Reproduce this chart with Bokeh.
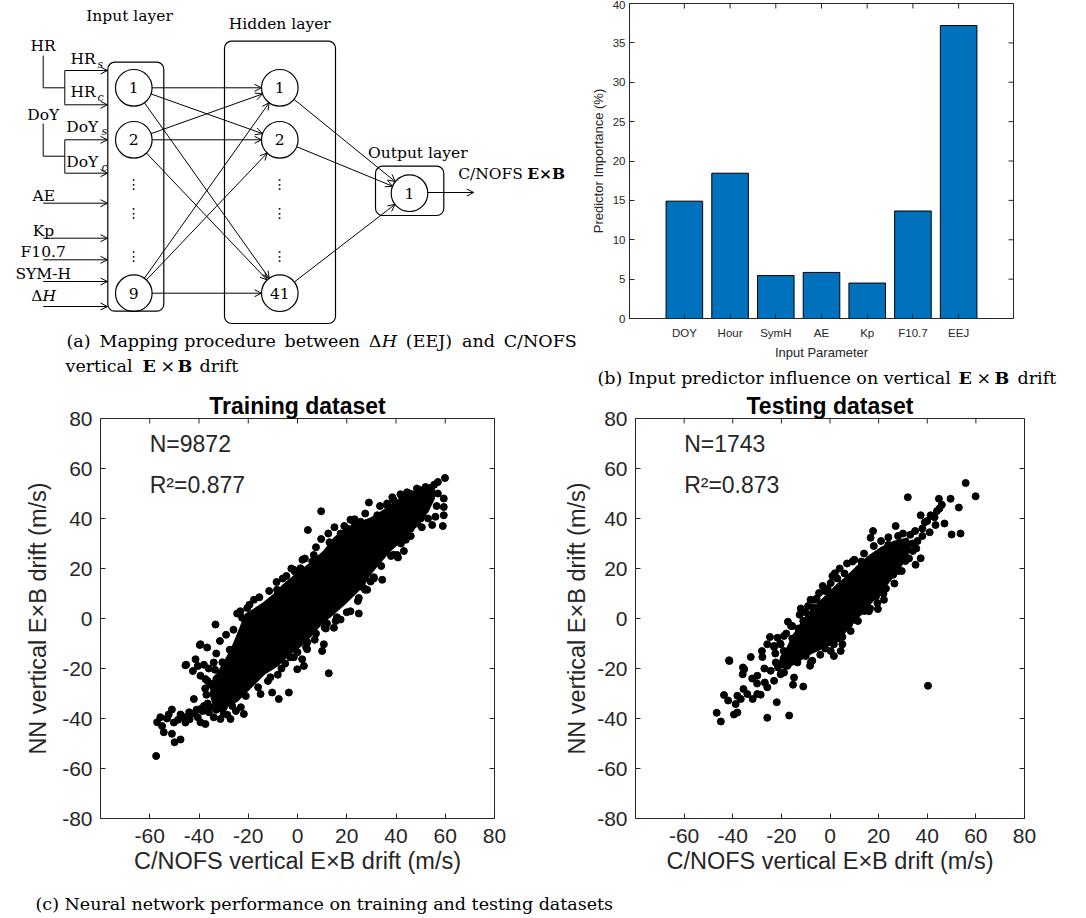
import math
from bokeh.plotting import figure
from bokeh.layouts import column, row
from bokeh.models import (Range1d, FixedTicker, BoxAnnotation, Arrow, OpenHead,
                          ColumnDataSource)
from bokeh.core.properties import value
from bokeh.embed import file_html
from bokeh.resources import INLINE

# ---------------------------------------------------------------- data
# (b) predictor importance
predictors = ["DOY", "Hour", "SymH", "AE", "Kp", "F10.7", "EEJ"]
importance = [14.9, 18.45, 5.45, 5.85, 4.5, 13.65, 37.2]
importance_ticks = [0, 5, 10, 15, 20, 25, 30, 35, 40]

# (c) drift axes
drift_xticks = [-60, -40, -20, 0, 20, 40, 60, 80]
drift_xlabels = ["-60", "-40", "-20", "0", "20", "40", "60", "80"]
drift_yticks = [-80, -60, -40, -20, 0, 20, 40, 60, 80]
drift_ylabels = ["-80", "-60", "-40", "-20", "0", "20", "40", "60", "80"]

# training set: outline of the saturated point cloud (C/NOFS, NN)
train_core_nofs = [54, 47.3, 41.8, 35.1, 29.7, 24.2, 18.8, 14.8, 10.7, 5.3, 0, -5.6, -9.6,
                   -13.7, -17.7, -21.1, -23.2, -25.9, -28.6, -32.6, -34, -35.3, -34, -28.6,
                   -24.5, -19.1, -13.7, -8.3, -4.2, 1.2, 5.3, 9.3, 13.4, 18.8, 22.9, 26.9,
                   29.7, 33.7, 37.8, 43.2, 48.6, 52.7, 55.4, 55.4]
train_core_nn = [53.2, 50.6, 47.9, 43.3, 40, 38, 35.4, 32, 26.8, 22.1, 18.1, 13.5, 9.5,
                 6.2, 3.6, 1.6, -3.7, -10.3, -15.6, -22.3, -23.6, -30.2, -34.9, -34.9,
                 -32.9, -27.6, -22.3, -18.9, -15, -11, -7, -2.4, 0.9, 5.6, 9.5, 13.5,
                 18.1, 22.8, 27.4, 32, 37.4, 42.6, 48, 52]
# training set: individual samples around the cloud
train_nofs = [59.9, 57, 59.4, 59.4, 59.4, 59, 54.7, 56, 48.6, 43.2, 40.8, 29, 9.6, 4.2, 9.6,
              23.2, 41.8, 36.4, -1.1, -8.5, -33.3, -39.7, -45.2, 24.9, 17.5, 21.5, 14.8,
              24.9, 26.9, 29.7, 28.3, 34.4, 40.5, -20.4, -23.2, -22.5, -17.7, -8.3, -1.5,
              1.2, 6, 6.6, 17.5, 20.2, 22.9, 25.6, 32.4, 36.4, 39.1, 42.5, 45.9, 50, 52, 54,
              -57.4, -57, -55.7, -54.3, -51, -49.9, -47.5, -52.3, -51, -50.2, -47.5, -45.5,
              -43.8, -42.1, -39.4, -39.4, -37.4, -36, -34, -31.3, -29.9, -27.2, -21.8,
              -45.5, -41.4, -39.4, -36.7, -39.4, -37.4, -34, 12.7, 10, 10.7, -3.5, -7.6,
              -10.3, -15, 1.9, 2.6, -0.1, 3.9, -53, -48.5, -44, -42, -40.5, -38.5, -36.5,
              -33, -32, -30, -38, -41, -46, -55, -42.5, -40.5, -38, -36, -35.5, -37.5,
              -33.5, -31, -25, -23, -28.5, -12, -8, -5, -3, 0, 4, 7.5, 11, 44, 50, 52, 46,
              38, 31, 16, 12,
              -26, -27.5, -30.5, -33.5, -36.5, -37, -35.5, -31, -26.5, -21, -16, -11, -6.5,
              -1.5, 3.5, 7, 11.5, 15.5, 20, 24.5, 27.5, 31, 34, 39, 42, 46, 50.5, 53, 56.5,
              57, 55.5, 48.5, 44.5, 38.5, 33.5, 27.5, 21.5, 15, 12.5, 7.5, 3, -2.5, -4.5,
              -11.5, -15.5, -19.5, -24.5, -6, 2, 13, 19, -29, -31.5, -33, -34.5]
train_nn = [56.2, 54.6, 48, 44.6, 41.3, 37, 37.4, 40.7, 38, 27, 24.4, 46.4, 42.9, 35.4, 31.8,
            39.7, 49.7, 46, 18.8, 14.6, -2.4, -10.6, -18.5, 2, -0.4, 2.9, -3.7,
            8.2, 12.2, 14.8, 11.5, 15.5, 25.4, 4.2, 2.9, 0.3, 7.5, 11.5, 19.5,
            20.1, 22.8, 25.4, 34, 36, 38.7, 38.7, 41.3, 45.3, 47.3, 48.6, 49.9, 51.3, 52.6, 52.2,
            -55, -41.5, -39.5, -45.5, -46.1, -49.5, -48.4, -38.4, -36.4, -41.6, -38.4, -41.6,
            -40.3, -32.2, -36.2, -41.5, -42.2, -37.5, -39.5, -40.2, -35.5, -40.2, -38.2,
            -18.7, -16.3, -10.3, -11.6, -22.9, -24.2, -17.6, -21.9, -13, -10.3, -29.6, -32.2,
            -29.6, -30.2, -16.3, -19, -20.3, -12.3, -40, -40.5, -37.5, -38, -39.5, -37, -34,
            -36.5, -33, -38, -35, -36.5, -39.5, -43, -21, -19, -18.5, -20, -26, -28,
            -29, -32, -37, -35.5, -38.5, -25, -22.5, -18, -15.5, -13.5, -9.5, -6, -3.5, 31.5,
            40, 44, 36, 25, 16.5, 0.5, -2,
            -4.5, -12.5, -17.5, -20.5, -25, -30.5, -35.5, -36, -35, -31, -27.5, -23.5, -20,
            -15.5, -11.5, -8.5, -4, -1, 2.5, 7, 11.5, 16, 21, 25.5, 30, 33, 36.5, 40, 45,
            50, 53.5, 52, 50.5, 48.5, 45, 42, 39.5, 36.5, 34, 28.5, 24, 20, 17,
            11, 8.5, 5.5, 2, 16, 23.5, 30.5, 37, -6.5, -9, -14, -27]
train_count = 9872
train_r2 = 0.877

# testing set: outline of the saturated point cloud (C/NOFS, NN)
test_core_nofs = [31.8, 26.3, 20.8, 16.7, 12.6, 7.1, 3, -1.1, -5.2, -9.3, -12.1, -14.8,
                  -17.5, -20, -21, -18, -13, -7, 0.3, 4.4, 8.5, 12.6, 16.7, 20.8, 24.9, 29,
                  31.8, 33.2]
test_core_nn = [32, 30.7, 28.1, 25.4, 22.1, 16.8, 13.5, 9.5, 5.6, 1.6, -2.4, -6.4,
                -11.7, -15, -19, -20, -17, -13.5, -10.3, -7.7, -2.4, 1.6, 6.2, 10.9, 15.5,
                20.8, 25.4, 29.4]
# testing set: individual samples around the cloud
test_nofs = [55.8, 59.9, 32, 44.8, 49.6, 53, 50, 53.7, 47.1, 43.4, 37.3, 41.4, 27, 17.7, 16.7,
             35.2, 37.3, 2, 0.3, -4.5, -5.9, 9.2, 12.9, -17.3, -41.5, -35.8, -32.6, -24.7,
             -21.6, -23, 19.5, 22.2, 19.7, 16, 5.1, 5.1, 1.6, 0.3, -7.9,
             40.3, -46.6, -44.9, -43.6, -41.9, -41.4, -38.8, -39.5, -38.1, -38.1, -36.7,
             -35.6, -35.9, -35.3, -34, -31.8, -29.9, -28.5, -27.8, -25.8, -21.9, -16.8,
             -15.2, -11, -25.8, -23, -20.3, -29.9, -26.8, -25.8, -23, -22.3, -21.4, -18.9,
             -17.5, -14.8, -13.4, -8.2, -7.3, 4.4, 1.6, -17.5, -14.8, -24.4, -20.3,
             28, 24, 21, 18, 14, 10, 6, 3, -2, -7, -10, -11, -13, -15.5, -19, 34, 33, 30, 35,
             38, 40, 42, 44, 46, 38, 41, 36, 34, 31, 28, 26, 23, 19, 14, 10, 7, 3, -2, -4,
             -10, -27, -30, -32, -28, -19, -16, -12, -8, -3, 1, 4, 7, 24, 30, 27.5, 45, 39, 43,
             -22.5, -20.5, -18, -15.5, -12.5, -9, -5.5, -1, 8.5, 11.5, 16.5, 22, 26.5, 29.5,
             32.5, 35.5, 30.5, 25.5, 21.5, 17, 12, 8]
test_nn = [54.2, 48.9, 48.5, 47.9, 47.9, 44.4, 33.6, 34, 38, 37.4, 41.3, 41.3, 37, 35, 32.3,
           21.5, 24.1, 18.1, 14.2, 10.2, 7.5, 22.8, 22.8, -1.3, -16.7, -19.6, -15.4, -7.4,
           -7.7, -11, 6.2, 7.5, 3.8, 2.9, -7.4, -10.3, -15, -13, -17.6,
           -26.9, -37.7, -41.2, -30.6, -32.8, -17, -34.2, -38.4, -37.6, -30.9, -32.2,
           -28.2, -22.3, -20.3, -30.2, -32.2, -30.2, -30.5, -15.4, -39.7, -33.5, -38.8,
           -26.5, -27.2, -10.3, -11.4, -10.3, -22.9, -25.6, -27.5, -24.9, -17.6, -19.6, -21.6,
           -18.9, -23.6, -17.6, -18.9, -16.9, -13, -10.3, -14.3, -11.7, -20.9, -22.3,
           33, 32.5, 31, 29, 26, 23.5, 18, 16, 11, 4.5, 2.5, -1, -4, -8, -13, 30, 33.5, 34, 35,
           36, 39, 41, 43, 45.5, 33, 34.5, 31, 27, 23, 19, 17.5, 12, 9, 3, -0.5, -3.5, -8, -12,
           -14.5, -15, -20, -26, -24, -13, -7, -3, 4, 7.5, 13, 17, 20, 22, 29.5, 30, 25, 44,
           38.5, 40.5,
           -14, -10, -6, -3, 1.5, 5, 8, 12, -5, -1, 4, 10, 14, 19, 24, 28, 27, 21.5, 15.5, 8.5,
           3, -2]
test_count = 1743
test_r2 = 0.873

# ---------------------------------------------------------------- styling
SANS = "Liberation Sans"
SERIF = "DejaVu Serif"
AXIS = "#262626"
LBL = "15.5px"      # diagram labels
CAP = "17.5px"      # sub-figure captions


def blank(width, height):
    """Figure with a pixel-like coordinate system and no axes."""
    f = figure(width=width, height=height, x_range=Range1d(0, width),
               y_range=Range1d(height, 0), x_axis_location=None, y_axis_location=None,
               output_backend="svg", toolbar_location=None, min_border=0)
    f.grid.visible = False
    f.outline_line_color = None
    f.frame_align = False
    return f


def words(f, xs, ys, texts, size=LBL, style="normal", align="left", font=SERIF):
    f.text(x=xs, y=ys, text=texts, text_font=value(font), text_font_size=size,
           text_font_style=style, text_align=align, text_baseline="middle",
           text_color="black")


def style_axis(ax, ticks, labels, size, standoff):
    ax.ticker = FixedTicker(ticks=ticks)
    ax.major_label_overrides = {t: s for t, s in zip(ticks, labels)}
    ax.axis_line_color = AXIS
    ax.axis_line_width = 1
    ax.major_tick_line_color = AXIS
    ax.major_tick_in = 5
    ax.major_tick_out = 0
    ax.minor_tick_line_color = None
    ax.major_label_text_font = SANS
    ax.major_label_text_font_size = size
    ax.major_label_text_color = AXIS
    ax.major_label_standoff = standoff
    ax.axis_label_text_font = SANS
    ax.axis_label_text_font_style = "normal"
    ax.axis_label_text_color = AXIS


def mirror_ticks(f, xticks, yticks):
    """Inward ticks on the top and right edges of the frame (box style)."""
    top = f.y_range.end
    right = f.x_range.end
    f.scatter(x=xticks, y=[top] * len(xticks), marker="dash", angle=math.pi / 2, size=10,
              line_color=AXIS, line_width=1)
    f.scatter(x=[right] * len(yticks), y=yticks, marker="dash", size=10,
              line_color=AXIS, line_width=1)


# ---------------------------------------------------------------- (a) network diagram
dg = blank(580, 390)

for l, r, t, b in [(107.3, 163.3, 61.7, 310.7), (224, 335, 40.7, 323),
                   (375, 443.3, 165.7, 215)]:
    dg.add_layout(BoxAnnotation(left=l, right=r, top=t, bottom=b, fill_color=None,
                                line_color="black", line_alpha=1, line_width=1.2,
                                border_radius=7))

R = 18.3
in_x, hid_x = 133.3, 279.3
layer_y = [87.3, 139.3, 292.7]
out_x, out_y = 409.0, 192.7

seg = dict(xs=[], ys=[], xe=[], ye=[])


def link(a, b, trim_a=R, trim_b=R):
    dx, dy = b[0] - a[0], b[1] - a[1]
    d = (dx * dx + dy * dy) ** 0.5
    ux, uy = dx / d, dy / d
    seg["xs"].append(a[0] + trim_a * ux)
    seg["ys"].append(a[1] + trim_a * uy)
    seg["xe"].append(b[0] - trim_b * ux)
    seg["ye"].append(b[1] - trim_b * uy)


for yi in layer_y:
    for yh in layer_y:
        link((in_x, yi), (hid_x, yh))
for yh in layer_y:
    link((hid_x, yh), (out_x, out_y))
link((out_x + R, 192), (473.3, 192), 0, 0)

# feature inputs feeding the input layer
for y0, x0 in [(70, 64.3), (104.3, 64.3), (139.3, 64.3), (172.7, 64.3), (202.7, 42.7),
               (237.7, 42.7), (259.3, 42.7), (281, 42.7), (306, 42.7)]:
    link((x0, y0), (107, y0), 0, 0)

dg.add_layout(Arrow(end=OpenHead(size=7, line_width=1, line_color="black"),
                    x_start="xs", y_start="ys", x_end="xe", y_end="ye",
                    line_width=1, line_color="black", source=ColumnDataSource(seg)))

# HR / DoY split into sine and cosine components
dg.multi_line(xs=[[42.7, 42.7, 64.3], [64.3, 64.3], [42.7, 42.7, 64.3], [64.3, 64.3]],
              ys=[[55, 87.3, 87.3], [70, 104.3], [123, 155.7, 155.7], [139.3, 172.7]],
              line_color="black", line_width=1)

dg.circle(x=[in_x] * 3 + [hid_x] * 3 + [out_x], y=layer_y + layer_y + [out_y], radius=R,
          fill_color="white", line_color="black", line_width=1.2)
words(dg, [in_x] * 3 + [hid_x] * 3 + [out_x], layer_y + layer_y + [out_y],
      ["1", "2", "9", "1", "2", "41", "1"], align="center")
dots_y = [183, 212, 255]
words(dg, [in_x] * 3 + [hid_x] * 3, dots_y + dots_y, ["⋮"] * 6, size="14px",
      align="center", font="DejaVu Sans")

words(dg, [129, 279.3, 417.3], [15.7, 23.3, 152.7],
      ["Input layer", "Hidden layer", "Output layer"], align="center")
words(dg, [42.7, 42.7, 43.3, 43, 42.7, 42.7], [45, 114.3, 195, 230, 251.7, 273.3],
      ["HR", "DoY", "AE", "Kp", "F10.7", "SYM-H"], align="center")
words(dg, [42], [295], ["Δ"], align="right")
words(dg, [42], [295], ["H"], style="italic")
words(dg, [70, 70, 65.7, 65.7], [58.3, 91.7, 126, 161.7], ["HR", "HR", "DoY", "DoY"])
words(dg, [97, 97, 101, 101], [63.5, 97, 131, 167], ["s", "c", "s", "c"], size="11px",
      style="italic")
words(dg, [457.7], [173.3], ["C/NOFS"])
words(dg, [526.7], [173.3], ["E×B"], style="bold")

# caption (a): first line justified word by word
cap_a1 = ["(a)", "Mapping", "procedure", "between", "Δ", "(EEJ)", "and", "C/NOFS"]
words(dg, [66, 99, 183.8, 284, 368.2, 405.3, 461.5, 503.2], [340] * len(cap_a1), cap_a1,
      size=CAP)
words(dg, [381.3], [340], ["H"], size=CAP, style="italic")
words(dg, [65, 160, 199], [365, 365, 365], ["vertical", "×", "drift"], size=CAP)
words(dg, [142, 177], [365, 365], ["E", "B"], size=CAP, style="bold")

# ---------------------------------------------------------------- (b) bar chart
positions = list(range(1, len(predictors) + 1))
bar = figure(width=506, height=362, x_range=Range1d(-0.2, 8.2), y_range=Range1d(0, 40),
             output_backend="svg", toolbar_location=None, min_border_left=49,
             min_border_right=73, min_border_top=3, min_border_bottom=43)
bar.frame_align = False
bar.grid.visible = False
bar.outline_line_color = AXIS
bar.outline_line_alpha = 1
bar.vbar(x=positions, top=importance, width=0.8, fill_color="#0072BD",
         line_color="black", line_width=1)
style_axis(bar.xaxis[0], positions, predictors, "11.5px", 8)
style_axis(bar.yaxis[0], importance_ticks, [str(t) for t in importance_ticks], "11.5px", 4)
bar.xaxis[0].axis_label = "Input Parameter"
bar.xaxis[0].axis_label_text_font_size = "13px"
bar.xaxis[0].axis_label_standoff = 3
bar.yaxis[0].axis_label = "Predictor Importance (%)"
bar.yaxis[0].axis_label_text_font_size = "13px"
bar.yaxis[0].axis_label_standoff = 4
mirror_ticks(bar, positions, importance_ticks)

cap_b = blank(506, 28)
words(cap_b, [17, 396, 437], [15, 15, 15], ["(b) Input predictor influence on vertical",
                                             "×", "drift"], size=CAP)
words(cap_b, [378, 414], [15, 15], ["E", "B"], size=CAP, style="bold")


# ---------------------------------------------------------------- (c) scatter panels
def scatter_panel(title, core_x, core_y, xs, ys, count, r2, width, left, right, lab_off):
    p = figure(width=width, height=495, x_range=Range1d(-80, 80), y_range=Range1d(-80, 80),
               output_backend="svg", toolbar_location=None, min_border_left=left,
               min_border_right=right, min_border_top=26, min_border_bottom=67,
               title=title)
    p.frame_align = False
    p.grid.visible = False
    p.outline_line_color = AXIS
    p.outline_line_alpha = 1
    p.title.align = "center"
    p.title.text_font = SANS
    p.title.text_font_size = "23px"
    p.title.text_font_style = "bold"
    p.title.text_color = "black"
    p.title.standoff = 0
    p.title.offset = 0
    p.patch(core_x, core_y, fill_color="black", line_color="black", line_width=2,
            line_join="round")
    p.scatter(xs, ys, size=7, color="black")
    style_axis(p.xaxis[0], drift_xticks, drift_xlabels, "21px", 10)
    style_axis(p.yaxis[0], drift_yticks, drift_ylabels, "21px", 8)
    p.xaxis[0].axis_label = "C/NOFS vertical E×B drift (m/s)"
    p.xaxis[0].axis_label_text_font_size = "23.5px"
    p.xaxis[0].axis_label_standoff = 2
    p.yaxis[0].axis_label = "NN vertical E×B drift (m/s)"
    p.yaxis[0].axis_label_text_font_size = "23.5px"
    p.yaxis[0].axis_label_standoff = lab_off
    mirror_ticks(p, drift_xticks, drift_yticks)
    p.text(x=[-60, -60], y=[70, 53.5], text=[f"N={count}", f"R²={r2:.3f}"],
           text_font=value(SANS), text_font_size="23px", text_align="left",
           text_baseline="middle", text_color=AXIS)
    return p


train = scatter_panel("Training dataset", train_core_nofs, train_core_nn, train_nofs,
                      train_nn, train_count, train_r2, 540, 100, 46, 8)
test = scatter_panel("Testing dataset", test_core_nofs, test_core_nn, test_nofs, test_nn,
                     test_count, test_r2, 546, 95, 62, 4)

cap_c = blank(1086, 33)
words(cap_c, [35], [18], ["(c) Neural network performance on training and testing datasets"],
      size=CAP)

layout = column(row(dg, column(bar, cap_b)), row(train, test), cap_c)
open("out.html", "w").write(file_html(layout, INLINE))
